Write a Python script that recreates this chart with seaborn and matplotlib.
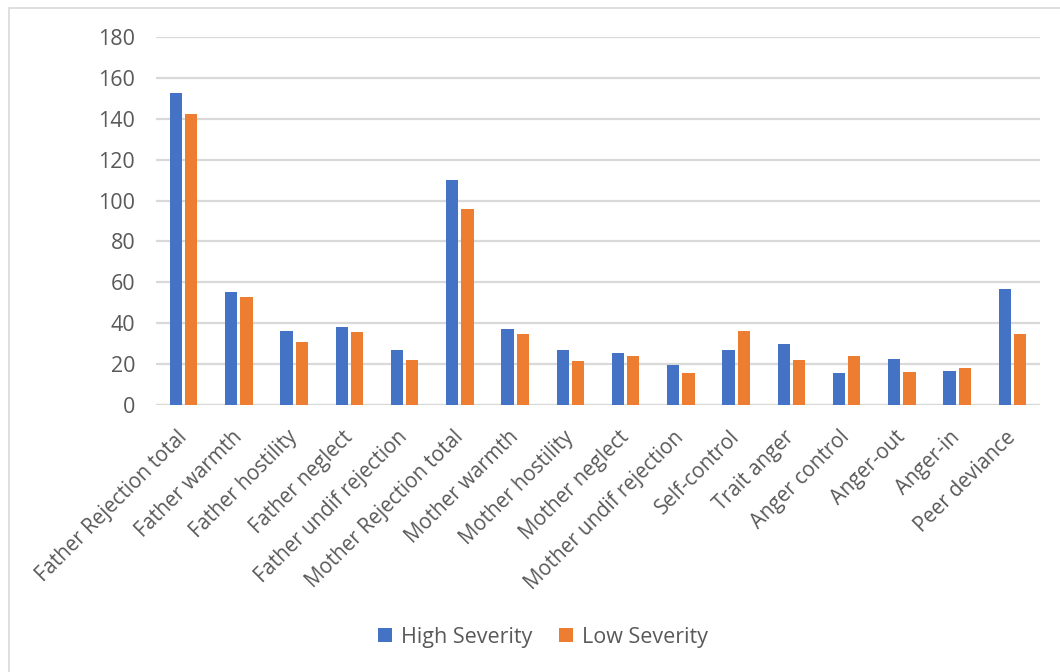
import matplotlib
matplotlib.use("Agg")
import matplotlib.pyplot as plt
import seaborn as sns
import pandas as pd
from matplotlib.patches import Rectangle, Patch

categories = [
    "Father Rejection total", "Father warmth", "Father hostility", "Father neglect",
    "Father undif rejection", "Mother Rejection total", "Mother warmth", "Mother hostility",
    "Mother neglect", "Mother undif rejection", "Self-control", "Trait anger",
    "Anger control", "Anger-out", "Anger-in", "Peer deviance",
]
high_severity = [152.6, 55.1, 36.4, 38.2, 27.0, 110.0, 37.4, 27.1,
                 25.3, 19.4, 27.1, 29.7, 15.7, 22.5, 16.8, 56.5]
low_severity = [142.3, 52.8, 30.7, 35.9, 22.2, 96.1, 34.8, 21.6,
                23.9, 15.5, 36.4, 21.9, 24.2, 16.0, 18.1, 34.6]
series_names = ["High Severity", "Low Severity"]
y_ticks = [0, 20, 40, 60, 80, 100, 120, 140, 160, 180]

df = pd.DataFrame({
    "category": categories * 2,
    "value": high_severity + low_severity,
    "series": [series_names[0]] * len(categories) + [series_names[1]] * len(categories),
})

sns.set_theme(style="white")
plt.rcParams["font.family"] = ["Open Sans", "DejaVu Sans"]

W, H = 1060, 672
fig = plt.figure(figsize=(W / 100, H / 100), dpi=100)
ax = fig.add_axes([156 / W, 1 - 405 / H, (1040 - 156) / W, (405 - 37) / H])

colors = {"High Severity": "#4472C4", "Low Severity": "#ED7D31"}
sns.barplot(data=df, x="category", y="value", hue="series", palette=colors,
            order=categories, hue_order=series_names, width=0.55, gap=0.2,
            saturation=1, ax=ax, legend=False, errorbar=None, linewidth=0, zorder=3)

ax.set_ylim(0, 180)
ax.set_xlim(-0.5, len(categories) - 0.5)
ax.set_yticks(y_ticks)
ax.yaxis.grid(True, color="#D9D9D9", linewidth=1.6, zorder=0)
ax.set_axisbelow(True)
for s in ax.spines.values():
    s.set_visible(False)
ax.axhline(0, color="#D9D9D9", linewidth=1.6, zorder=1)
ax.set_xlabel("")
ax.set_ylabel("")
ax.tick_params(axis="y", length=0, pad=15, labelsize=15.5, labelcolor="#595959")
ax.tick_params(axis="x", length=0, pad=21, labelsize=14.8, labelcolor="#595959")
ax.set_xticks(range(len(categories)))
ax.set_xticklabels(categories, rotation=45, ha="right", va="center", rotation_mode="anchor")

# chart frame
fig.patches.append(Rectangle((9 / W, -0.1), 1.2, 1 - 8 / H + 0.1, transform=fig.transFigure,
                             fill=False, edgecolor="#D9D9D9", linewidth=1.2))

handles = [Patch(facecolor=colors[n], edgecolor="none") for n in series_names]
fig.legend(handles, series_names, loc="center", bbox_to_anchor=(543 / W, 1 - 637 / H),
           ncol=2, frameon=False, fontsize=15.5, labelcolor="#595959",
           handlelength=0.65, handleheight=0.65, handletextpad=0.4, columnspacing=1.25)

fig.savefig("out.png", dpi=100)
